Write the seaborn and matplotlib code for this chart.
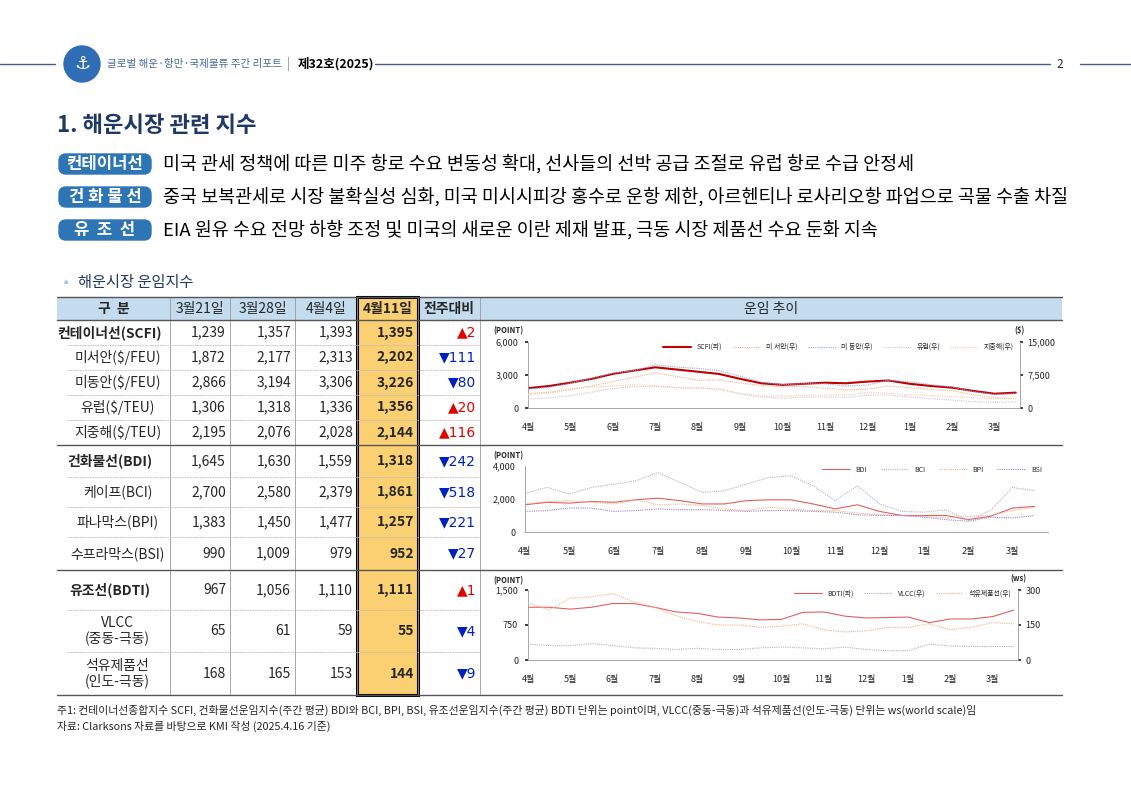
import numpy as np
import pandas as pd
import matplotlib.pyplot as plt
import seaborn as sns
from matplotlib.patches import Rectangle, FancyBboxPatch, Circle

sns.set_theme(style="white")
plt.rcParams['font.family'] = ['Noto Sans CJK KR', 'DejaVu Sans']

# -------------------------------
# Data
# -------------------------------
months = ['4월', '5월', '6월', '7월', '8월', '9월', '10월', '11월', '12월', '1월', '2월', '3월']
weeks = np.arange(24) * 0.5

scfi = [1800, 2000, 2300, 2650, 3100, 3400, 3700, 3500, 3300, 3100, 2650, 2250,
        2100, 2200, 2300, 2250, 2400, 2500, 2200, 2000, 1850, 1550, 1300, 1395]
us_west = [3300, 3600, 4300, 5000, 6000, 7000, 8000, 7200, 6300, 6400, 5700, 5100,
           4800, 4900, 4500, 4100, 4300, 5000, 4600, 4200, 3900, 3000, 2300, 2202]
us_east = [4300, 4700, 5600, 6800, 7900, 8500, 9800, 9300, 9000, 8500, 7200, 5900,
           5300, 5500, 5500, 5000, 5200, 6300, 6000, 5300, 4800, 3700, 3100, 3226]
europe = [2000, 2300, 2800, 3600, 4400, 4900, 4900, 4600, 4500, 4300, 3200, 2500,
          2200, 2500, 2500, 2400, 2900, 3000, 2500, 2100, 1800, 1400, 1300, 1356]
med = [3000, 3400, 4100, 4800, 5000, 5300, 5100, 4700, 4600, 4300, 3300, 2700,
       2700, 2900, 2900, 3000, 3500, 3400, 3000, 2800, 2600, 2300, 2100, 2144]

bdi = [1650, 1800, 1750, 1850, 1800, 1950, 2050, 1900, 1700, 1700, 1900, 1950,
       1950, 1700, 1400, 1650, 1250, 1000, 1000, 1000, 750, 950, 1450, 1550]
bci = [2350, 2700, 2300, 2700, 2900, 3100, 3600, 3000, 2400, 2500, 2900, 3300,
       3400, 2800, 1900, 2800, 1700, 1250, 1200, 1350, 700, 1300, 2700, 2500]
bpi = [1700, 1850, 1900, 1800, 1700, 1950, 1650, 1700, 1600, 1400, 1300, 1500,
       1400, 1300, 1300, 1150, 1050, 1000, 950, 850, 950, 1000, 1300, 1500]
bsi = [1250, 1300, 1450, 1450, 1250, 1300, 1400, 1350, 1350, 1300, 1250, 1300,
       1300, 1250, 1200, 1050, 1000, 1000, 900, 750, 650, 900, 850, 1000]

bdti = [1130, 1130, 1090, 1130, 1210, 1210, 1130, 1030, 1000, 920, 900, 860,
        870, 1020, 1030, 940, 900, 910, 920, 800, 880, 880, 930, 1070]
vlcc = [68, 62, 62, 70, 62, 52, 50, 45, 50, 45, 45, 52,
        55, 52, 48, 55, 45, 40, 40, 68, 60, 58, 58, 58]
product = [245, 215, 265, 270, 285, 250, 225, 190, 165, 150, 150, 140,
           145, 155, 130, 120, 125, 140, 140, 155, 130, 140, 160, 155]

col_dates = ['3월21일', '3월28일', '4월4일', '4월11일', '전주대비']
row_names = ['컨테이너선(SCFI)', '미서안($/FEU)', '미동안($/FEU)', '유럽($/TEU)', '지중해($/TEU)',
             '건화물선(BDI)', '케이프(BCI)', '파나막스(BPI)', '수프라막스(BSI)',
             '유조선(BDTI)', 'VLCC\n(중동-극동)', '석유제품선\n(인도-극동)']
v_0321 = [1239, 1872, 2866, 1306, 2195, 1645, 2700, 1383, 990, 967, 65, 168]
v_0328 = [1357, 2177, 3194, 1318, 2076, 1630, 2580, 1450, 1009, 1056, 61, 165]
v_0404 = [1393, 2313, 3306, 1336, 2028, 1559, 2379, 1477, 979, 1110, 59, 153]
v_0411 = [1395, 2202, 3226, 1356, 2144, 1318, 1861, 1257, 952, 1111, 55, 144]
wow = [2, -111, -80, 20, 116, -242, -518, -221, -27, 1, -4, -9]

W, H = 1131, 800
fig = plt.figure(figsize=(W / 100, H / 100), dpi=100)
bg = fig.add_axes([0, 0, 1, 1])
bg.set_xlim(0, W)
bg.set_ylim(H, 0)
bg.axis('off')

# -------------------------------
# Page header
# -------------------------------
navy = '#1f3864'
bg.plot([0, 55], [64, 64], color='#4a5a8a', lw=1)
bg.plot([375, 1050], [64, 64], color='#4a5a8a', lw=1)
bg.plot([1080, 1131], [64, 64], color='#4a5a8a', lw=1)
bg.add_patch(Circle((82, 64), 18, color='#2f6db5'))
bg.text(82, 64, '⚓', color='white', fontsize=13, ha='center', va='center', family=['DejaVu Sans'])
bg.text(107, 64, '글로벌 해운·항만·국제물류 주간 리포트', color='#4a6a9a', fontsize=7.6, va='center')
bg.text(288, 64, '|', color='#888888', fontsize=9, va='center', ha='center')
bg.text(298, 64, '제32호(2025)', color='black', fontsize=9, fontweight='bold', va='center')
bg.text(1060, 64, '2', fontsize=8.5, ha='center', va='center')

bg.text(57, 126, '1. 해운시장 관련 지수', color=navy, fontsize=16, fontweight='bold', va='center')

badges = [('컨테이너선', '미국 관세 정책에 따른 미주 항로 수요 변동성 확대, 선사들의 선박 공급 조절로 유럽 항로 수급 안정세'),
          ('건 화 물 선', '중국 보복관세로 시장 불확실성 심화, 미국 미시시피강 홍수로 운항 제한, 아르헨티나 로사리오항 파업으로 곡물 수출 차질'),
          ('유  조  선', 'EIA 원유 수요 전망 하향 조정 및 미국의 새로운 이란 제재 발표, 극동 시장 제품선 수요 둔화 지속')]
for i, (b, t) in enumerate(badges):
    y = 164 + i * 33
    bg.add_patch(FancyBboxPatch((59, y - 10), 92, 20, boxstyle='round,pad=0,rounding_size=7',
                                color='#2e75b6'))
    bg.text(105, y, b, color='white', fontsize=12, fontweight='bold', ha='center', va='center')
    bg.text(163, y, t, color='black', fontsize=13.3, va='center')

bg.text(60, 283, '▪', color='#9dc3e6', fontsize=9, va='center')
bg.text(78, 283, '해운시장 운임지수', color=navy, fontsize=11, va='center')

# -------------------------------
# Table
# -------------------------------
xs = [57, 170, 230, 295, 357, 418, 480, 1062]
top, hdr = 297, 320
bounds = [320, 345, 370, 395, 420, 445, 477, 507, 537, 570, 610, 652, 695]
group_starts = {0, 5, 9}

bg.add_patch(Rectangle((xs[0], top), xs[-1] - xs[0], hdr - top, facecolor='#c5dcef', edgecolor='none'))
bg.add_patch(Rectangle((xs[4], top), xs[5] - xs[4], bounds[-1] - top, facecolor='#fbd072', edgecolor='none'))
for x in xs[1:-1]:
    bg.plot([x, x], [top, bounds[-1]], color='#999999', lw=0.6)
bg.plot([xs[0], xs[-1]], [top, top], color='#555555', lw=1)
bg.plot([xs[0], xs[-1]], [hdr, hdr], color='#555555', lw=1)
for i in range(1, len(bounds)):
    strong = (i in group_starts) or i == len(bounds) - 1
    x0 = xs[0] if strong else xs[0] + 10
    bg.plot([x0, xs[6] if not strong else xs[-1]], [bounds[i], bounds[i]],
            color='#555555' if strong else '#bbbbbb', lw=1 if strong else 0.6,
            ls='-' if strong else (0, (2, 1)))
bg.add_patch(Rectangle((xs[4], top), xs[5] - xs[4], bounds[-1] - top, facecolor='none',
                       edgecolor='black', lw=2.2))

hc = (top + hdr) / 2
bg.text((xs[0] + xs[1]) / 2, hc, '구  분', fontsize=10, fontweight='bold', ha='center', va='center')
for j, c in enumerate(col_dates):
    bg.text((xs[j + 1] + xs[j + 2]) / 2, hc, c, fontsize=10,
            fontweight='bold' if j >= 3 else 'normal', ha='center', va='center')
bg.text((xs[6] + xs[7]) / 2, hc, '운임 추이', fontsize=10, ha='center', va='center')

for i, name in enumerate(row_names):
    yc = (bounds[i] + bounds[i + 1]) / 2
    if i in group_starts:
        bg.text((xs[0] + xs[1]) / 2 - 4, yc, name, fontsize=10, fontweight='bold',
                ha='center', va='center')
    else:
        bg.text((xs[0] + xs[1]) / 2 + 4, yc, name, fontsize=10, ha='center', va='center', linespacing=1.1)
    for j, v in enumerate([v_0321[i], v_0328[i], v_0404[i], v_0411[i]]):
        bg.text(xs[j + 2] - 4, yc, f'{v:,}', fontsize=10, ha='right', va='center',
                fontweight='bold' if j == 3 else 'normal')
    d = wow[i]
    bg.text(xs[6] - 4, yc, ('▲' if d > 0 else '▼') + f'{abs(d)}', fontsize=10, ha='right', va='center',
            color='#e00000' if d > 0 else '#0020c0', family=['DejaVu Sans'])

bg.text(57, 710, '주1: 컨테이너선종합지수 SCFI, 건화물선운임지수(주간 평균) BDI와 BCI, BPI, BSI, 유조선운임지수(주간 평균) BDTI 단위는 point이며, '
        'VLCC(중동-극동)과 석유제품선(인도-극동) 단위는 ws(world scale)임', fontsize=7.8, va='center')
bg.text(57, 726, '자료: Clarksons 자료를 바탕으로 KMI 작성 (2025.4.16 기준)', fontsize=7.8, va='center')

# -------------------------------
# Small charts
# -------------------------------
def make_ax(x0, x1, y0, y1):
    ax = fig.add_axes([x0 / W, 1 - y1 / H, (x1 - x0) / W, (y1 - y0) / H])
    ax.set_xlim(0, 11.6)
    ax.set_xticks(range(12))
    ax.set_xticklabels(months)
    ax.tick_params(labelsize=6.5, length=2, pad=5)
    ax.tick_params(axis='x', pad=9)
    for s in ['top', 'right']:
        ax.spines[s].set_visible(False)
    for s in ['left', 'bottom']:
        ax.spines[s].set_color('#999999')
        ax.spines[s].set_linewidth(0.6)
    ax.set_facecolor('none')
    return ax

def twin(ax, ymax, ticks, label):
    a2 = ax.twinx()
    a2.set_ylim(0, ymax)
    a2.set_yticks(ticks)
    a2.set_yticklabels([f'{t:,}' for t in ticks])
    a2.tick_params(labelsize=6.5, length=2)
    for s in ['top', 'left', 'bottom']:
        a2.spines[s].set_visible(False)
    a2.spines['right'].set_color('#999999')
    a2.spines['right'].set_linewidth(0.6)
    a2.text(1.0, 1.13, label, transform=a2.transAxes, fontsize=5.5, ha='center', fontweight='bold')
    return a2

dot = (0, (1, 1))

ax1 = make_ax(528, 1020, 342, 408)
ax1.set_ylim(0, 6000)
ax1.set_yticks([0, 3000, 6000])
ax1.set_yticklabels(['0', '3,000', '6,000'])
ax1.text(-0.07, 1.13, '(POINT)', transform=ax1.transAxes, fontsize=5.5, fontweight='bold')
a1 = twin(ax1, 15000, [0, 7500, 15000], '($)')
sns.lineplot(x=weeks, y=scfi, ax=ax1, color='#c00000', lw=1.5, label='SCFI(좌)', legend=False)
for vals, c, lab in [(us_west, '#f4b183', '미 서안(우)'), (us_east, '#8faadc', '미 동안(우)'),
                     (europe, '#c9c9c9', '유럽(우)'), (med, '#f8cbad', '지중해(우)')]:
    sns.lineplot(x=weeks, y=vals, ax=a1, color=c, lw=0.8, ls=dot, label=lab, legend=False)
h1, l1 = ax1.get_legend_handles_labels()
h2, l2 = a1.get_legend_handles_labels()
a1.legend(h1 + h2, l1 + l2, ncol=5, fontsize=5, frameon=False, loc='upper right',
          bbox_to_anchor=(1.0, 1.08), handlelength=4, columnspacing=1.5)

ax2 = make_ax(525, 1048, 466, 532)
ax2.set_ylim(0, 4000)
ax2.set_yticks([0, 2000, 4000])
ax2.set_yticklabels(['0', '2,000', '4,000'])
ax2.text(-0.06, 1.12, '(POINT)', transform=ax2.transAxes, fontsize=5.5, fontweight='bold')
for vals, c, ls, lab in [(bdi, '#e06060', '-', 'BDI'), (bci, '#a6b4d4', dot, 'BCI'),
                         (bpi, '#f4b183', dot, 'BPI'), (bsi, '#9a7fd0', dot, 'BSI')]:
    sns.lineplot(x=weeks, y=vals, ax=ax2, color=c, lw=0.8, ls=ls, label=lab, legend=False)
ax2.legend(ncol=4, fontsize=5, frameon=False, loc='upper right', bbox_to_anchor=(1.0, 1.1),
           handlelength=4, columnspacing=2)
ax2.set_xlim(0, 11.8)

ax3 = make_ax(528, 1018, 590, 660)
ax3.set_ylim(0, 1500)
ax3.set_yticks([0, 750, 1500])
ax3.set_yticklabels(['0', '750', '1,500'])
ax3.text(-0.07, 1.1, '(POINT)', transform=ax3.transAxes, fontsize=5.5, fontweight='bold')
a3 = twin(ax3, 300, [0, 150, 300], '(ws)')
sns.lineplot(x=weeks, y=bdti, ax=ax3, color='#e06060', lw=0.8, label='BDTI(좌)', legend=False)
sns.lineplot(x=weeks, y=vlcc, ax=a3, color='#a6b4d4', lw=0.8, ls=dot, label='VLCC(우)', legend=False)
sns.lineplot(x=weeks, y=product, ax=a3, color='#f4b183', lw=0.8, ls=dot, label='석유제품선(우)', legend=False)
h1, l1 = ax3.get_legend_handles_labels()
h2, l2 = a3.get_legend_handles_labels()
a3.legend(h1 + h2, l1 + l2, ncol=3, fontsize=5, frameon=False, loc='upper right',
          bbox_to_anchor=(1.0, 1.1), handlelength=4, columnspacing=1.5)

fig.savefig('out.png', dpi=100)
